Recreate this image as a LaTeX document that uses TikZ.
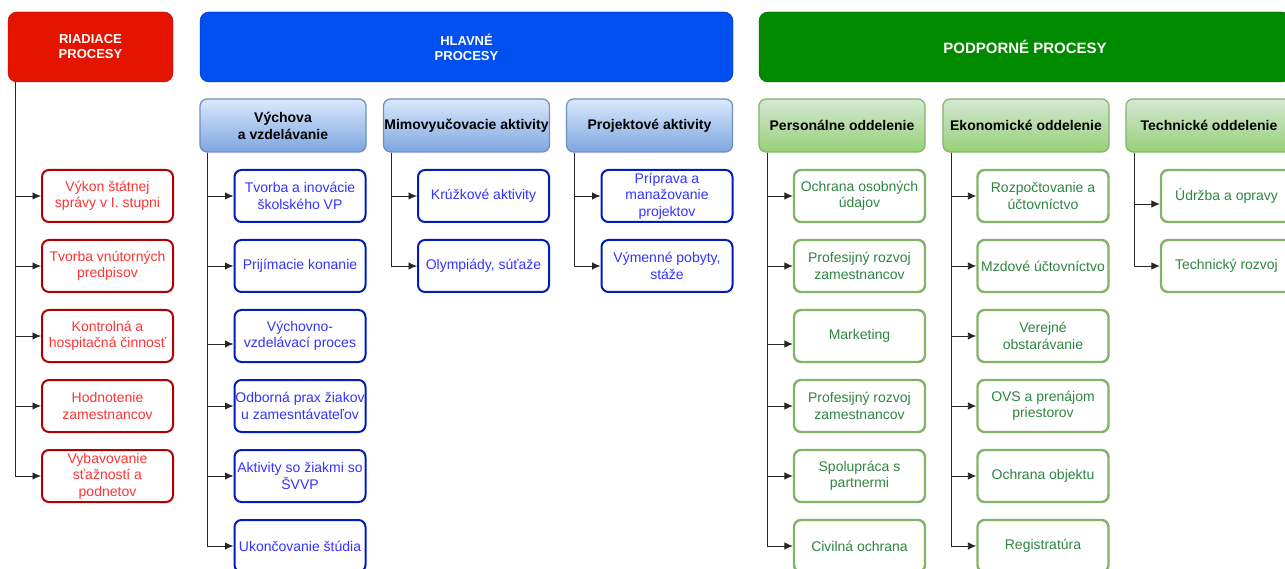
\documentclass[tikz,border=0pt]{standalone}
\usepackage{fontspec}
\setmainfont{Liberation Sans}
\usepackage{tikz}
\usetikzlibrary{backgrounds}
\usetikzlibrary{shapes}
\usetikzlibrary{arrows}
\usetikzlibrary{arrows.meta}

\definecolor{redfill}{HTML}{E51400}
\definecolor{reddraw}{HTML}{B20000}
\definecolor{redtext}{HTML}{FF3333}
\definecolor{bluefill}{HTML}{0050EF}
\definecolor{bluedraw}{HTML}{001DBC}
\definecolor{bluetext}{HTML}{3333FF}
\definecolor{bluetop}{HTML}{DAE8FC}
\definecolor{bluebot}{HTML}{7EA6E0}
\definecolor{bluesub}{HTML}{6C8EBF}
\definecolor{greenfill}{HTML}{008A00}
\definecolor{greendraw}{HTML}{005700}
\definecolor{greentop}{HTML}{D5E8D4}
\definecolor{greenbot}{HTML}{97D077}
\definecolor{greenleaf}{HTML}{82B366}
\definecolor{greentext}{HTML}{2E8540}

\begin{document}
\begin{tikzpicture}[x=1pt,y=-1pt]
\tikzstyle{top} = [rectangle, rounded corners=9, minimum height=70, inner sep=0,
text=white, align=center, font=\fontsize{13}{15}\selectfont\bfseries]
\tikzstyle{sub} = [rectangle, rounded corners=7, minimum width=166, minimum height=53, inner sep=0,
align=center, line width=1.2, font=\fontsize{14}{17}\selectfont\bfseries]
\tikzstyle{subblue} = [sub, draw=bluesub, top color=bluetop, bottom color=bluebot]
\tikzstyle{subgreen} = [sub, draw=greenleaf, top color=greentop, bottom color=greenbot]
\tikzstyle{leaf} = [rectangle, rounded corners=7, minimum width=131, minimum height=52, inner sep=0,
fill=white, line width=2, align=center, font=\fontsize{14}{16.5}\selectfont]
\tikzstyle{rleaf} = [leaf, draw=reddraw, text=redtext]
\tikzstyle{bleaf} = [leaf, draw=bluedraw, text=bluetext]
\tikzstyle{gleaf} = [leaf, draw=greenleaf, line width=2.4, text=greentext]
\tikzstyle{line} = [draw, black!85, line width=0.9, -{Latex[length=8.5pt,width=7.5pt]}]

\useasboundingbox (0,0) rectangle (1285,569);

% top row
\node [top, minimum width=165, fill=redfill, draw=reddraw] (riad) at (90.5,47) {RIADIACE\\PROCESY};
\node [top, minimum width=533, fill=bluefill, draw=bluedraw] (hlav) at (466.5,47) {HLAVNÉ\\PROCESY};
\node [top, minimum width=532, fill=greenfill, draw=greendraw, font=\fontsize{15}{17}\selectfont\bfseries] (podp) at (1025,47) {PODPORNÉ PROCESY};

% second row
\node [subblue] (vych) at (283,125.5) {Výchova\\a vzdelávanie};
\node [subblue] (mimo) at (466.5,125.5) {Mimovyučovacie aktivity};
\node [subblue] (proj) at (649.5,125.5) {Projektové aktivity};
\node [subgreen] (pers) at (842,125.5) {Personálne oddelenie};
\node [subgreen] (ekon) at (1026,125.5) {Ekonomické oddelenie};
\node [subgreen] (tech) at (1209,125.5) {Technické oddelenie};

% riadiace
\node [rleaf] (r1) at (107.5,196) {Výkon štátnej\\správy v I. stupni};
\node [rleaf] (r2) at (107.5,266) {Tvorba vnútorných\\predpisov};
\node [rleaf] (r3) at (107.5,336) {Kontrolná a\\hospitačná činnosť};
\node [rleaf] (r4) at (107.5,406) {Hodnotenie\\zamestnancov};
\node [rleaf] (r5) at (107.5,476) {Vybavovanie\\sťažností a\\podnetov};

% vychova
\node [bleaf] (v1) at (300,196) {Tvorba a inovácie\\školského VP};
\node [bleaf] (v2) at (300,266) {Prijímacie konanie};
\node [bleaf] (v3) at (300,336) {Výchovno-\\vzdelávací proces};
\node [bleaf] (v4) at (300,406) {Odborná prax žiakov\\u zamesntávateľov};
\node [bleaf] (v5) at (300,476) {Aktivity so žiakmi so\\ŠVVP};
\node [bleaf] (v6) at (300,546) {Ukončovanie štúdia};

% mimovyucovacie, projektove
\node [bleaf] (m1) at (483.5,196) {Krúžkové aktivity};
\node [bleaf] (m2) at (483.5,266) {Olympiády, súťaže};
\node [bleaf] (p1) at (667,196) {Príprava a\\manažovanie\\projektov};
\node [bleaf] (p2) at (667,266) {Výmenné pobyty,\\stáže};

% personalne
\node [gleaf] (pe1) at (859.5,196) {Ochrana osobných\\údajov};
\node [gleaf] (pe2) at (859.5,266) {Profesijný rozvoj\\zamestnancov};
\node [gleaf] (pe3) at (859.5,336) {Marketing};
\node [gleaf] (pe4) at (859.5,406) {Profesijný rozvoj\\zamestnancov};
\node [gleaf] (pe5) at (859.5,476) {Spolupráca s\\partnermi};
\node [gleaf] (pe6) at (859.5,546) {Civilná ochrana};

% ekonomicke
\node [gleaf] (e1) at (1043,196) {Rozpočtovanie a\\účtovníctvo};
\node [gleaf] (e2) at (1043,266) {Mzdové účtovníctvo};
\node [gleaf] (e3) at (1043,336) {Verejné\\obstarávanie};
\node [gleaf] (e4) at (1043,406) {OVS a prenájom\\priestorov};
\node [gleaf] (e5) at (1043,476) {Ochrana objektu};
\node [gleaf] (e6) at (1043,546) {Registratúra};

% technicke
\node [gleaf] (t1) at (1226.5,196) {Údržba a opravy};
\node [gleaf] (t2) at (1226.5,266) {Technický rozvoj};

\tikzstyle{every path}=[line]
\path ([xshift=8]riad.south west) |- (r1);
\path ([xshift=8]riad.south west) |- (r2);
\path ([xshift=8]riad.south west) |- (r3);
\path ([xshift=8]riad.south west) |- (r4);
\path ([xshift=8]riad.south west) |- (r5);
\path ([xshift=8]vych.south west) |- (v1);
\path ([xshift=8]vych.south west) |- (v2);
\path ([xshift=8]vych.south west) |- ([yshift=-8]v3.west);
\path ([xshift=8]vych.south west) |- (v4);
\path ([xshift=8]vych.south west) |- (v5);
\path ([xshift=8]vych.south west) |- (v6);
\path ([xshift=9]mimo.south west) |- (m1);
\path ([xshift=9]mimo.south west) |- (m2);
\path ([xshift=9]proj.south west) |- (p1);
\path ([xshift=9]proj.south west) |- (p2);
\path ([xshift=9]pers.south west) |- (pe1);
\path ([xshift=9]pers.south west) |- (pe2);
\path ([xshift=9]pers.south west) |- ([yshift=-8]pe3.west);
\path ([xshift=9]pers.south west) |- (pe4);
\path ([xshift=9]pers.south west) |- (pe5);
\path ([xshift=9]pers.south west) |- (pe6);
\path ([xshift=9]ekon.south west) |- (e1);
\path ([xshift=9]ekon.south west) |- (e2);
\path ([xshift=9]ekon.south west) |- (e3);
\path ([xshift=9]ekon.south west) |- (e4);
\path ([xshift=9]ekon.south west) |- (e5);
\path ([xshift=9]ekon.south west) |- (e6);
\path ([xshift=9]tech.south west) |- ([yshift=-8]t1.west);
\path ([xshift=9]tech.south west) |- (t2);
\end{tikzpicture}
\end{document}
